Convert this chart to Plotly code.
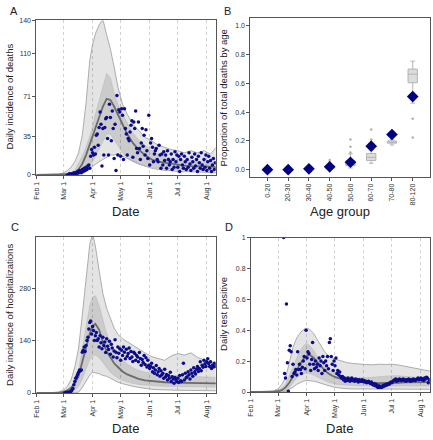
import plotly.graph_objects as go
import pandas as pd

W, H = 433, 440
FONT = "Liberation Sans, Arial, sans-serif"

# ---------------- shared date ticks ----------------
month_ticks = ["2020-02-01", "2020-03-01", "2020-04-01", "2020-05-01", "2020-06-01", "2020-07-01", "2020-08-01"]
month_labels = ["Feb 1", "Mar 1", "Apr 1", "May 1", "Jun 1", "Jul 1", "Aug 1"]

band_dates = ["2020-02-01", "2020-02-15", "2020-02-25", "2020-03-01", "2020-03-05", "2020-03-09", "2020-03-13",
              "2020-03-17", "2020-03-21", "2020-03-25", "2020-03-29", "2020-04-01", "2020-04-04", "2020-04-08",
              "2020-04-12", "2020-04-16", "2020-04-20", "2020-04-24", "2020-04-28", "2020-05-03", "2020-05-08",
              "2020-05-14", "2020-05-20", "2020-05-27", "2020-06-03", "2020-06-10", "2020-06-17", "2020-06-24",
              "2020-07-01", "2020-07-08", "2020-07-15", "2020-07-22", "2020-07-29", "2020-08-05", "2020-08-11"]

# ---------------- Panel A: deaths ----------------
A_hi95 = [0, 0, 0.5, 2, 4, 7, 12, 20, 36, 65, 104, 118, 128, 136, 141, 127, 114, 98, 80, 64, 55, 46, 40, 34,
          31, 27, 25, 23, 22, 20, 22, 20, 22, 19, 25]
A_lo95 = [0, 0, 0, 0, 0, 0, 0, 0.5, 1.5, 3, 6, 8, 10, 12, 14, 16, 18, 18, 19, 17, 15, 12, 10, 8,
          6, 5, 4, 4, 3, 3, 3, 2.5, 2.5, 2, 2]
A_hi50 = [0, 0, 0, 0.5, 1, 2, 4, 10, 17, 25, 36, 43, 55, 67, 80, 92, 88, 74, 64, 55, 47, 38, 32, 27,
          22, 19, 17, 15, 14, 13, 13, 12, 12, 12, 11]
A_lo50 = [0, 0, 0, 0, 0, 0, 0.5, 1, 2, 4, 8, 12, 17, 24, 31, 37, 37, 32, 26, 20, 16, 12, 10, 8,
          7, 6, 5.5, 5, 5, 4.5, 4.5, 4, 4, 4, 4]
A_med = [0, 0, 0, 0.3, 0.6, 1, 2, 5, 10, 18, 28, 35, 44, 54, 62, 69, 68, 62, 55, 45, 37, 29, 23, 18,
         14, 12, 11, 10, 9, 8.5, 8, 8, 7.5, 7.5, 7]
A_start = "2020-03-05"
A_obs = [0, 0, 1, 0, 1, 1, 0,
         2, 1, 2, 1, 3, 2, 4,
         3, 2, 5, 3, 6, 4, 7,
         5, 8, 9, 6, 17, 23,
         20, 18, 25, 19, 36, 37, 27,
         43, 57, 46, 8, 42, 18, 43,
         51, 52, 33, 18, 64, 52, 31,
         58, 42, 15, 46, 4, 72, 18,
         59, 57, 17, 60, 54, 14, 60,
         42, 37, 18, 33, 31, 39, 45,
         49, 16, 48, 42, 58, 24, 20,
         48, 24, 14, 29, 42, 26, 36,
         18, 41, 22, 15, 54, 9, 29,
         33, 25, 12, 19, 22, 24, 14,
         12, 27, 18, 6, 19, 9, 21,
         13, 18, 6, 22, 14, 9, 12,
         19, 5, 14, 7, 21, 12, 18,
         7, 17, 3, 14, 19, 9, 6,
         17, 12, 5, 14, 7, 20, 10,
         4, 16, 12, 6, 19, 8, 14,
         3, 17, 11, 6, 20, 9, 5,
         14, 7, 18, 4, 12, 17, 6,
         13, 3, 9, 15, 5, 11]
A_yticks = [0, 35, 71, 110, 140]

# ---------------- Panel C: hospitalizations ----------------
C_hi95 = [0, 0.5, 3, 8, 18, 35, 70, 120, 210, 310, 400, 430, 395, 330, 268, 228, 200, 175, 158, 146, 138, 128,
          120, 108, 98, 92, 88, 100, 106, 102, 108, 96, 88, 82, 78]
C_lo95 = [0, 0, 0, 0, 0, 0, 0, 2, 15, 32, 48, 56, 55, 52, 47, 45, 40, 34, 29, 25, 21, 18, 15, 12,
          10, 9, 8, 8, 8, 7, 7, 7, 6, 6, 6]
C_hi50 = [0, 0, 1, 3, 8, 16, 30, 60, 120, 180, 235, 258, 262, 235, 195, 160, 135, 115, 100, 88, 78, 68, 61, 56,
          52, 50, 48, 47, 47, 46, 46, 45, 44, 43, 42]
C_lo50 = [0, 0, 0, 0, 0, 3, 8, 18, 38, 65, 90, 100, 102, 95, 82, 68, 56, 47, 40, 34, 30, 26, 23, 21,
          20, 19, 18, 18, 17, 17, 17, 17, 16, 16, 16]
C_med = [0, 0, 1, 3, 7, 14, 26, 45, 82, 122, 160, 180, 186, 170, 137, 112, 94, 80, 70, 58, 50, 43, 38, 34,
         32, 30, 29, 28, 28, 27, 27, 27, 26, 26, 26]
C_start = "2020-03-02"
C_obs = [0, 1, 0, 2, 1, 3, 2,
         5, 8, 12, 22, 31, 40, 44,
         50, 56, 62, 60, 62, 110, 115,
         124, 112, 128, 141, 150, 172, 190,
         194, 159, 179, 168, 141, 154, 163,
         141, 146, 124, 154, 135, 119, 150,
         128, 137, 109, 146, 126, 117, 139,
         104, 131, 121, 97, 113, 143, 110,
         95, 124, 107, 119, 88, 115, 101,
         124, 110, 92, 118, 99, 106, 121,
         93, 112, 97, 85, 110, 106, 88,
         101, 97, 84, 109, 93, 75, 90,
         82, 101, 77, 95, 70, 88, 75,
         66, 71, 80, 57, 68, 53, 62,
         74, 49, 57, 66, 45, 60, 49,
         53, 40, 64, 44, 50, 35, 47,
         40, 56, 31, 44, 38, 26, 42,
         35, 31, 40, 28, 47, 33, 31,
         49, 80, 35, 53, 41, 44, 57,
         49, 38, 62, 53, 45, 68, 57,
         51, 64, 71, 58, 66, 84, 60,
         75, 69, 88, 79, 71, 84, 92,
         79, 71, 84, 66, 75, 70, 80, 72]
C_yticks = [0, 140, 280]

# ---------------- Panel D: test positivity ----------------
D_hi95 = [0, 0.002, 0.008, 0.02, 0.05, 0.09, 0.20, 0.29, 0.35, 0.385, 0.408, 0.414, 0.405, 0.38, 0.34, 0.30,
          0.26, 0.235, 0.22, 0.21, 0.20, 0.19, 0.185, 0.18, 0.178, 0.176, 0.18, 0.178, 0.18, 0.175, 0.168,
          0.16, 0.152, 0.142, 0.135]
D_lo95 = [0, 0, 0, 0, 0.002, 0.005, 0.015, 0.03, 0.05, 0.063, 0.072, 0.075, 0.074, 0.07, 0.064, 0.056,
          0.048, 0.04, 0.034, 0.028, 0.024, 0.021, 0.02, 0.02, 0.02, 0.02, 0.02, 0.02, 0.021, 0.021, 0.02,
          0.02, 0.019, 0.018, 0.018]
D_hi50 = [0, 0.001, 0.004, 0.01, 0.025, 0.05, 0.10, 0.16, 0.22, 0.27, 0.305, 0.314, 0.30, 0.27, 0.23, 0.195,
          0.165, 0.14, 0.125, 0.115, 0.105, 0.098, 0.094, 0.092, 0.092, 0.095, 0.10, 0.104, 0.106, 0.105,
          0.102, 0.097, 0.093, 0.09, 0.087]
D_lo50 = [0, 0, 0, 0.002, 0.005, 0.01, 0.03, 0.06, 0.09, 0.11, 0.12, 0.122, 0.12, 0.11, 0.097, 0.085,
          0.074, 0.064, 0.057, 0.051, 0.047, 0.044, 0.042, 0.041, 0.04, 0.04, 0.04, 0.04, 0.04, 0.04,
          0.04, 0.04, 0.04, 0.039, 0.039]
D_med = [0, 0, 0.002, 0.005, 0.012, 0.03, 0.06, 0.10, 0.145, 0.185, 0.22, 0.235, 0.24, 0.222, 0.195, 0.165,
         0.14, 0.12, 0.105, 0.093, 0.083, 0.075, 0.069, 0.064, 0.06, 0.058, 0.057, 0.057, 0.058, 0.06,
         0.062, 0.063, 0.064, 0.064, 0.064]
D_start = "2020-03-07"
D_obs = [1.0, 0.12, 0.09, 0.57, 0.19, 0.005, 0.27,
         0.30, 0.26, 0.10, 0.18, 0.12, 0.13, 0.145,
         0.11, 0.26, 0.145, 0.18, 0.145, 0.12, 0.16,
         0.20, 0.23, 0.15, 0.40, 0.22, 0.26, 0.25,
         0.18, 0.14, 0.21, 0.32, 0.18, 0.15, 0.20,
         0.16, 0.18, 0.14, 0.22, 0.17, 0.20, 0.12,
         0.23, 0.19, 0.14, 0.20, 0.17, 0.23, 0.15,
         0.32, 0.345, 0.23, 0.18, 0.14, 0.20, 0.17,
         0.22, 0.12, 0.14, 0.11, 0.13, 0.10, 0.09,
         0.10, 0.08, 0.09, 0.07, 0.085, 0.075, 0.09,
         0.08, 0.07, 0.085, 0.09, 0.075, 0.08, 0.07,
         0.085, 0.075, 0.08, 0.065, 0.08, 0.075, 0.07,
         0.08, 0.07, 0.075, 0.065, 0.07, 0.06, 0.065,
         0.07, 0.06, 0.055, 0.065, 0.05, 0.045, 0.055,
         0.04, 0.05, 0.035, 0.03, 0.04, 0.03, 0.035,
         0.03, 0.04, 0.035, 0.045, 0.04, 0.05, 0.045,
         0.055, 0.05, 0.06, 0.065, 0.06, 0.07, 0.075,
         0.08, 0.085, 0.07, 0.08, 0.075, 0.085, 0.08,
         0.075, 0.08, 0.085, 0.075, 0.08, 0.07, 0.08,
         0.075, 0.085, 0.08, 0.07, 0.08, 0.075, 0.085,
         0.08, 0.075, 0.08, 0.085, 0.09, 0.08, 0.085,
         0.09, 0.08, 0.085, 0.075, 0.09, 0.085, 0.095, 0.09, 0.06, 0.08]
D_yticks = [0, 0.2, 0.4, 0.6, 0.8, 1.0]
D_ylabels = ["0", "0.2", "0.4", "0.6", "0.8", "1"]

# ---------------- Panel B: age distribution ----------------
age_groups = ["0-20", "20-30", "30-40", "40-50", "50-60", "60-70", "70-80", "80-120"]
obs_prop = [0.0, 0.0, 0.006, 0.02, 0.052, 0.164, 0.245, 0.509]
box_q1 = [0.0, 0.0, 0.003, 0.010, 0.028, 0.064, 0.185, 0.605]
box_med = [0.0, 0.001, 0.005, 0.015, 0.045, 0.086, 0.192, 0.665]
box_q3 = [0.002, 0.002, 0.007, 0.022, 0.063, 0.113, 0.200, 0.700]
box_lo = [0.0, 0.0, 0.001, 0.004, 0.012, 0.045, 0.172, 0.463]
box_hi = [0.004, 0.004, 0.010, 0.040, 0.110, 0.135, 0.210, 0.755]
out_group = ["40-50", "40-50", "50-60", "50-60", "50-60", "60-70", "60-70", "80-120", "80-120"]
out_val = [0.055, 0.068, 0.12, 0.16, 0.21, 0.21, 0.28, 0.355, 0.225]
B_yticks = [0, 0.2, 0.4, 0.6, 0.8, 1.0]
B_ylabels = ["0.0", "0.2", "0.4", "0.6", "0.8", "1.0"]

# ---------------- styles ----------------
OUTER_FILL = "rgba(0,0,0,0.105)"
MID_FILL = "rgba(0,0,0,0.11)"
EDGE = "#9a9a9a"
MED_COL = "#6a6a6a"
DOT = "#0b0b8c"

fig = go.Figure()


def band_panel(xa, ya, hi95, lo95, hi50, lo50, med, start, obs):
    fig.add_trace(go.Scatter(x=band_dates, y=lo95, mode="lines", line=dict(color=EDGE, width=0.8),
                             xaxis=xa, yaxis=ya, hoverinfo="skip"))
    fig.add_trace(go.Scatter(x=band_dates, y=hi95, mode="lines", line=dict(color=EDGE, width=0.8),
                             fill="tonexty", fillcolor=OUTER_FILL, xaxis=xa, yaxis=ya, hoverinfo="skip"))
    fig.add_trace(go.Scatter(x=band_dates, y=lo50, mode="lines", line=dict(color="#b5b5b5", width=0.5),
                             xaxis=xa, yaxis=ya, hoverinfo="skip"))
    fig.add_trace(go.Scatter(x=band_dates, y=hi50, mode="lines", line=dict(color="#b5b5b5", width=0.5),
                             fill="tonexty", fillcolor=MID_FILL, xaxis=xa, yaxis=ya, hoverinfo="skip"))
    fig.add_trace(go.Scatter(x=band_dates, y=med, mode="lines", line=dict(color=MED_COL, width=1.8),
                             xaxis=xa, yaxis=ya, hoverinfo="skip"))
    dates = pd.date_range(start, periods=len(obs))
    fig.add_trace(go.Scatter(x=dates, y=obs, mode="markers",
                             marker=dict(color=DOT, size=3.5, symbol="circle", line=dict(width=0)),
                             xaxis=xa, yaxis=ya))


band_panel("x", "y", A_hi95, A_lo95, A_hi50, A_lo50, A_med, A_start, A_obs)
band_panel("x3", "y3", C_hi95, C_lo95, C_hi50, C_lo50, C_med, C_start, C_obs)
band_panel("x4", "y4", D_hi95, D_lo95, D_hi50, D_lo50, D_med, D_start, D_obs)

# Panel B
fig.add_trace(go.Box(x=age_groups, q1=box_q1, median=box_med, q3=box_q3, lowerfence=box_lo,
                     upperfence=box_hi, boxpoints=False, width=0.45, whiskerwidth=0.5,
                     fillcolor="#dcdcdc", line=dict(color="#b4b4b4", width=1),
                     xaxis="x2", yaxis="y2", hoverinfo="skip"))
fig.add_trace(go.Scatter(x=out_group, y=out_val, mode="markers",
                         marker=dict(color="#b0b0b0", size=2.5), xaxis="x2", yaxis="y2"))
fig.add_trace(go.Scatter(x=age_groups, y=obs_prop, mode="markers",
                         marker=dict(color="#000080", size=9, symbol="diamond", line=dict(width=0)),
                         xaxis="x2", yaxis="y2"))


def xd(px0, px1):
    return [px0 / W, px1 / W]


def yd(py_top, py_bot):
    return [1 - py_bot / H, 1 - py_top / H]


tickfont = dict(family=FONT, size=7, color="#333333")
common = dict(showline=True, linecolor="#555555", linewidth=1, mirror=True, ticks="outside",
              ticklen=3, tickcolor="#555555", tickwidth=1, zeroline=False, tickfont=tickfont)


def date_axis(dom, anchor):
    return dict(domain=dom, anchor=anchor, type="date",
                range=["2020-02-01", "2020-08-10 12:00"],
                tickmode="array", tickvals=month_ticks, ticktext=month_labels, tickangle=-90,
                showgrid=True, gridcolor="#d2d2d2", griddash="dot", gridwidth=1, **common)


fig.update_layout(
    width=W, height=H, autosize=False, showlegend=False,
    margin=dict(l=0, r=0, t=0, b=0),
    paper_bgcolor="white", plot_bgcolor="white",
    font=dict(family=FONT, color="#222222"),
    xaxis=date_axis(xd(32.7, 213.7), "y"),
    yaxis=dict(domain=yd(16.7, 173.7), anchor="x", range=[0, 140], tickmode="array",
               tickvals=A_yticks, showgrid=False, **common),
    xaxis2=dict(domain=xd(248.7, 429.7), anchor="y2", type="category", range=[-0.82, 7.82],
                tickangle=-90, showgrid=False, **common),
    yaxis2=dict(domain=yd(14, 175.7), anchor="x2", range=[-0.05, 1.057], tickmode="array",
                tickvals=B_yticks, ticktext=B_ylabels, showgrid=False, **common),
    xaxis3=date_axis(xd(32.7, 213.7), "y3"),
    yaxis3=dict(domain=yd(236.7, 395.3), anchor="x3", range=[0, 420], tickmode="array",
                tickvals=C_yticks, showgrid=False, **common),
    xaxis4=date_axis(xd(249.3, 429.7), "y4"),
    yaxis4=dict(domain=yd(237.3, 394.3), anchor="x4", range=[0, 1], tickmode="array",
                tickvals=D_yticks, ticktext=D_ylabels, showgrid=False, **common),
)


def ann(text, px, py, size, angle=0):
    fig.add_annotation(text=text, x=px / W, y=1 - py / H, xref="paper", yref="paper",
                       showarrow=False, textangle=angle, xanchor="center", yanchor="middle",
                       font=dict(family=FONT, size=size, color="#222222"))


ann("A", 10, 7, 11)
ann("B", 226, 7, 11)
ann("C", 11, 227, 11)
ann("D", 227, 227, 11)
ann("Date", 123, 211, 13)
ann("Age group", 339, 211, 13)
ann("Date", 123, 431, 13)
ann("Date", 339, 431, 13)
ann("Daily incidence of deaths", 6, 94, 9.5, -90)
ann("Proportion of total deaths by age", 222, 95, 9.5, -90)
ann("Daily incidence of hospitalizations", 6, 316, 9.5, -90)
ann("Daily test positive", 222, 315, 9.5, -90)

fig.write_html("out.html", config={"displayModeBar": False, "staticPlot": True},
               post_script="document.body.style.margin='0';document.body.style.padding='0';"
                           "document.documentElement.style.overflow='hidden';")
